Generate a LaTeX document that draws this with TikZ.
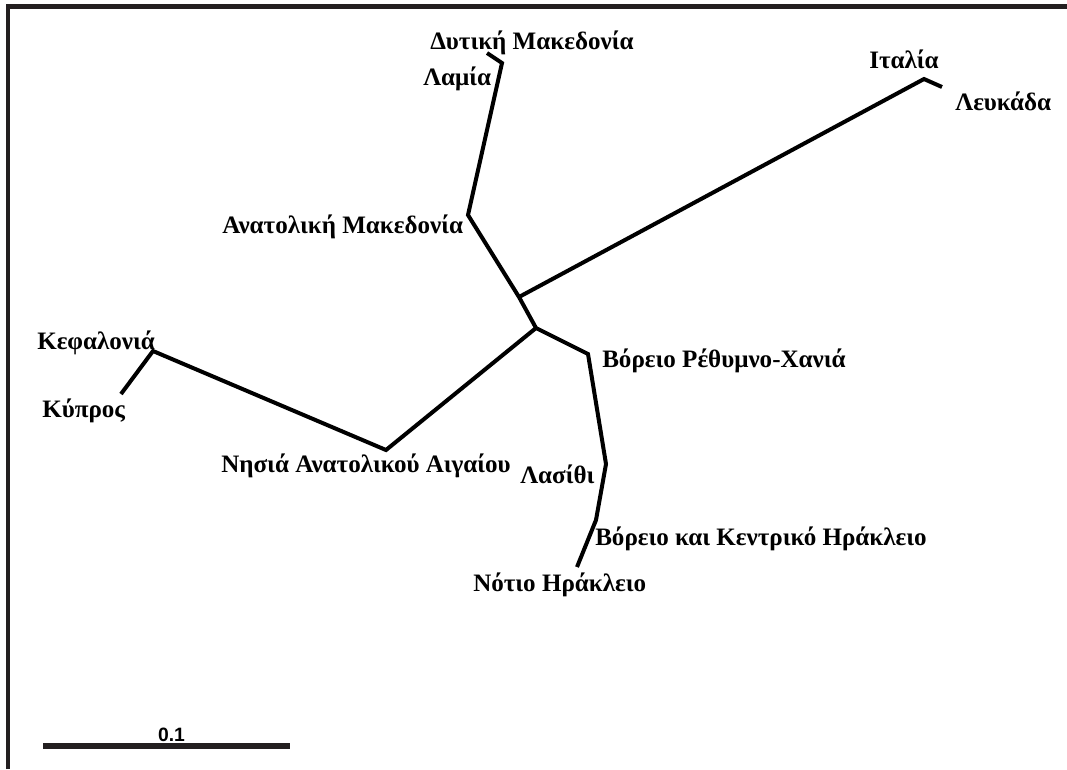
\documentclass[tikz,border=0pt]{standalone}
\usepackage{fontspec}
\setmainfont{Liberation Serif}
\newfontfamily\lblsans{Liberation Sans}
\definecolor{framegray}{HTML}{231F20}
\begin{document}
\begin{tikzpicture}[x=0.75pt,y=-0.75pt,
  branch/.style={line width=3pt, line join=miter, line cap=butt},
  lbl/.style={font=\fontsize{18.8}{20}\selectfont\bfseries, inner sep=0pt, anchor=base west},
  framerule/.style={line width=3.4pt, color=framegray}]
\useasboundingbox (0,0) rectangle (1067,769);
% frame
\coordinate (fbl) at (8,769);
\coordinate (ftl) at (8,6.5);
\coordinate (ftr) at (1067,6.5);
\draw[framerule] (fbl) -- (ftl) -- (ftr);
% tree points
\coordinate (dm) at (487,53);
\coordinate (lam) at (502,63);
\coordinate (am) at (468,215);
\coordinate (jA) at (519,297);
\coordinate (jB) at (536,328);
\coordinate (vr) at (588,354);
\coordinate (las) at (606,464);
\coordinate (vkh) at (596,520);
\coordinate (nh) at (577,567);
\coordinate (it) at (924,79);
\coordinate (lef) at (942,87);
\coordinate (nis) at (386,450);
\coordinate (kef) at (153,351);
\coordinate (kyp) at (121,394);
\draw[branch] (dm) -- (lam) -- (am) -- (jA) -- (jB) -- (vr) -- (las) -- (vkh) -- (nh);
\draw[branch] (jA) -- (it) -- (lef);
\draw[branch] (jB) -- (nis) -- (kef) -- (kyp);
% labels
\node[lbl] (tdm) at (430,49) {Δυτική Μακεδονία};
\node[lbl] (tlam) at (423,85) {Λαμία};
\node[lbl] (tam) at (222,233) {Ανατολική Μακεδονία};
\node[lbl] (tit) at (869,68) {Ιταλία};
\node[lbl] (tlef) at (955,110) {Λευκάδα};
\node[lbl] (tkef) at (37,349) {Κεφαλονιά};
\node[lbl] (tkyp) at (42,417) {Κύπρος};
\node[lbl] (tnis) at (221,472) {Νησιά Ανατολικού Αιγαίου};
\node[lbl] (tvr) at (602,367) {Βόρειο Ρέθυμνο-Χανιά};
\node[lbl] (tlas) at (520,483) {Λασίθι};
\node[lbl] (tvkh) at (595,545) {Βόρειο και Κεντρικό Ηράκλειο};
\node[lbl] (tnh) at (473,591) {Νότιο Ηράκλειο};
% scale bar
\coordinate (sb1) at (43,746);
\coordinate (sb2) at (290,746);
\draw[line width=3.8pt, color=framegray] (sb1) -- (sb2);
\node[font=\lblsans\fontsize{14.5}{16}\selectfont\bfseries, inner sep=0pt, anchor=base] (tsb) at (171.5,741) {0.1};
\end{tikzpicture}
\end{document}
